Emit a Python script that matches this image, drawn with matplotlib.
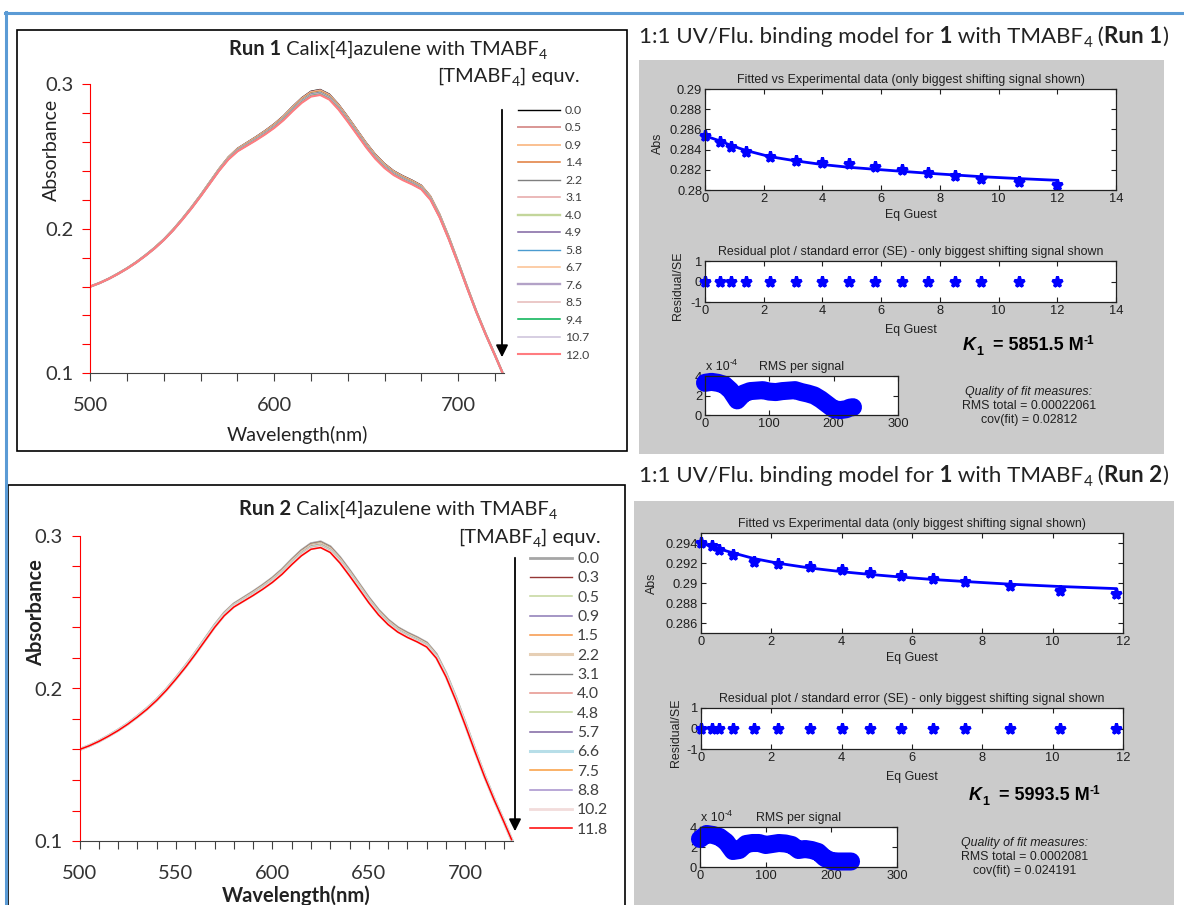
import matplotlib
matplotlib.use("Agg")
import matplotlib.pyplot as plt
from matplotlib.patches import Rectangle, FancyArrowPatch
from matplotlib.lines import Line2D
from matplotlib.ticker import MultipleLocator
import numpy as np

# ---------------- data ----------------
wavelength = [500, 505, 510, 515, 520, 525, 530, 535, 540, 545, 550, 555, 560, 565,
              570, 575, 580, 585, 590, 595, 600, 605, 610, 615, 620, 625, 630, 635,
              640, 645, 650, 655, 660, 665, 670, 675, 680, 685, 690, 695, 700, 705,
              710, 715, 720, 724]
# spectrum at 0 equiv.
abs_start = [0.1600, 0.1625, 0.1655, 0.1690, 0.1728, 0.1770, 0.1818, 0.1870, 0.1928,
             0.1995, 0.2070, 0.2150, 0.2235, 0.2325, 0.2415, 0.2495, 0.2555, 0.2595,
             0.2635, 0.2678, 0.2725, 0.2780, 0.2845, 0.2905, 0.2950, 0.2962, 0.2930,
             0.2860, 0.2775, 0.2685, 0.2595, 0.2515, 0.2450, 0.2400, 0.2365, 0.2335,
             0.2300, 0.2225, 0.2100, 0.1945, 0.1775, 0.1600, 0.1430, 0.1275, 0.1130,
             0.1010]
# gap between first and last spectrum
abs_drop = [0.0000, 0.0001, 0.0002, 0.0003, 0.0004, 0.0004, 0.0005, 0.0006, 0.0006,
            0.0007, 0.0008, 0.0010, 0.0011, 0.0013, 0.0015, 0.0018, 0.0021, 0.0023,
            0.0025, 0.0027, 0.0029, 0.0031, 0.0033, 0.0035, 0.0037, 0.0038, 0.0038,
            0.0037, 0.0036, 0.0034, 0.0033, 0.0032, 0.0031, 0.0030, 0.0030, 0.0029,
            0.0028, 0.0026, 0.0023, 0.0020, 0.0016, 0.0013, 0.0009, 0.0006, 0.0004,
            0.0001]

eq_run1 = [0.0, 0.5, 0.9, 1.4, 2.2, 3.1, 4.0, 4.9, 5.8, 6.7, 7.6, 8.5, 9.4, 10.7, 12.0]
obs_run1 = [0.28536, 0.28480, 0.28421, 0.28381, 0.28331, 0.28288, 0.28272, 0.28258,
            0.28228, 0.28199, 0.28169, 0.28142, 0.28113, 0.28079, 0.28050]
fit_run1 = [0.28536, 0.28487, 0.28440, 0.28391, 0.28331, 0.28288, 0.28252, 0.28225,
            0.28205, 0.28185, 0.28166, 0.28149, 0.28132, 0.28113, 0.28096]
res_run1 = [0, 0, 0, 0, 0, 0, 0, 0, 0, 0, 0, 0, 0, 0, 0]

eq_run2 = [0.0, 0.3, 0.5, 0.9, 1.5, 2.2, 3.1, 4.0, 4.8, 5.7, 6.6, 7.5, 8.8, 10.2, 11.8]
obs_run2 = [0.29400, 0.29370, 0.29333, 0.29275, 0.29214, 0.29190, 0.29157, 0.29130,
            0.29103, 0.29069, 0.29039, 0.29012, 0.28971, 0.28924, 0.28887]
fit_run2 = [0.29400, 0.29366, 0.29343, 0.29302, 0.29245, 0.29197, 0.29150, 0.29113,
            0.29086, 0.29059, 0.29035, 0.29015, 0.28988, 0.28965, 0.28944]
res_run2 = [0, 0, 0, 0, 0, 0, 0, 0, 0, 0, 0, 0, 0, 0, 0]

# RMS per signal (x 1e-4)
rms_sig1 = [0, 10, 20, 30, 40, 45, 50, 60, 70, 80, 90, 100, 110, 120, 130, 140, 150,
            160, 170, 180, 190, 200, 210, 220, 225, 230]
rms_run1 = [3.3, 3.4, 3.3, 3.1, 2.5, 2.0, 1.5, 2.2, 2.45, 2.5, 2.55, 2.4, 2.35, 2.45,
            2.5, 2.55, 2.35, 2.2, 2.0, 1.6, 1.1, 0.6, 0.5, 0.6, 0.75, 0.8]
rms_sig2 = [0, 10, 20, 30, 40, 50, 60, 70, 80, 90, 100, 110, 120, 130, 140, 150, 160,
            170, 180, 190, 200, 210, 220, 230]
rms_run2 = [2.8, 3.3, 3.2, 3.0, 2.5, 1.6, 1.7, 2.3, 2.4, 2.4, 2.2, 2.3, 2.4, 2.35, 2.2,
            1.7, 1.8, 1.7, 1.5, 0.9, 0.6, 0.55, 0.55, 0.55]

colors_run1 = ['#000000', '#d99694', '#fac090', '#e07b39', '#7f7f7f', '#e6a5a5',
               '#c3d69b', '#8064a2', '#4a9bd0', '#fcc08f', '#b3a2c7', '#e6b9b8',
               '#00b050', '#ccc1da', '#ff7c80']
lw_run1 = [1.0, 1.4, 1.4, 1.1, 1.0, 1.1, 1.7, 1.1, 1.0, 1.1, 1.7, 1.1, 1.1, 1.1, 1.5]
colors_run2 = ['#a6a6a6', '#953735', '#c3d69b', '#8c79b5', '#f79646', '#e6cfb5',
               '#808080', '#e6928a', '#c3d69b', '#7f64a2', '#b7dee8', '#f99c3e',
               '#a58fcc', '#f2dcdb', '#ff0000']
lw_run2 = [2.0, 1.0, 1.1, 1.1, 1.1, 2.2, 1.0, 1.1, 1.1, 1.1, 2.2, 1.1, 1.1, 2.0, 1.1]

# ---------------- layout helpers ----------------
W, H = 1184, 905
LATO = ['Lato', 'DejaVu Sans']
MAT = ['Liberation Sans', 'DejaVu Sans']
plt.rcParams['font.family'] = MAT
plt.rcParams['axes.unicode_minus'] = False
BLUE = '#0000ff'

fig = plt.figure(figsize=(W / 100, H / 100), dpi=100)
renderer = fig.canvas.get_renderer()


def px_axes(x0, y0, x1, y1):
    return fig.add_axes([x0 / W, 1 - y1 / H, (x1 - x0) / W, (y1 - y0) / H])


def rich(x, y, pieces, ha='left'):
    # pieces: (text, props, baseline shift in px)
    texts = []
    cur = x
    for s, kw, dy in pieces:
        t = fig.text(cur / W, 1 - (y + dy) / H, s, ha='left', va='baseline', **kw)
        cur = t.get_window_extent(renderer).x1
        texts.append(t)
    if ha == 'right':
        shift = cur - x
        for t in texts:
            px, py = t.get_position()
            t.set_position((px - shift / W, py))


# background frame
fig.add_artist(Line2D([5 / W, 1], [1 - 13 / H, 1 - 13 / H], color='#5b9bd5', lw=2.2))
fig.add_artist(Line2D([6 / W, 6 / W], [1 - 12 / H, 0], color='#5b9bd5', lw=2.2))
fig.add_artist(Rectangle((17 / W, 1 - 451 / H), 610 / W, 421 / H, fill=False,
                         ec='black', lw=1.2, zorder=-2))
fig.add_artist(Rectangle((8 / W, -0.02), 617 / W, 1 - 485 / H + 0.02, fill=False,
                         ec='black', lw=1.2, zorder=-2))
fig.add_artist(Rectangle((639 / W, 1 - 454 / H), 525 / W, 394 / H, fc='#cbcbcb',
                         ec='none', zorder=-5))
fig.add_artist(Rectangle((634 / W, 0), 540 / W, 1 - 501 / H, fc='#cbcbcb',
                         ec='none', zorder=-5))


# ---------------- spectra panels ----------------
def spectra_panel(box, eqs, obs, colors, lws, minor, major, bold, lab_fs, ylab_pos,
                  xlab_pad):
    ax = px_axes(*box)
    base = np.array(abs_start)
    drop = np.array(abs_drop)
    lines = []
    for e, o, c, lw in zip(eqs, obs, colors, lws):
        frac = (obs[0] - o) / (obs[0] - obs[-1])
        ln, = ax.plot(wavelength, base - drop * frac, color=c, lw=lw)
        lines.append(ln)
    ax.set_xlim(500, 725)
    ax.set_ylim(0.1, 0.3)
    ax.spines['top'].set_visible(False)
    ax.spines['right'].set_visible(False)
    ax.spines['left'].set_color('#ff0000')
    ax.spines['bottom'].set_color('#404040')
    ax.xaxis.set_major_locator(MultipleLocator(major))
    ax.xaxis.set_minor_locator(MultipleLocator(minor))
    ax.yaxis.set_major_locator(MultipleLocator(0.1))
    ax.yaxis.set_minor_locator(MultipleLocator(0.02))
    ax.tick_params(axis='y', which='both', colors='#ff0000', length=6, width=0.8,
                   labelcolor='#333333', labelsize=14.5, pad=6)
    ax.tick_params(axis='x', which='both', colors='#404040', length=6, width=0.8,
                   labelcolor='#333333', labelsize=14.5, pad=11)
    ax.set_yticks([0.1, 0.2, 0.3])
    ax.set_yticklabels(['0.1', '0.2', '0.3'])
    for lab in ax.get_xticklabels() + ax.get_yticklabels():
        lab.set_family(LATO)
    w = 'bold' if bold else 'normal'
    ax.set_xlabel('Wavelength(nm)', family=LATO, fontsize=lab_fs, weight=w,
                  color='#222222', labelpad=xlab_pad)
    ax.set_ylabel('Absorbance', family=LATO, fontsize=lab_fs, weight=w,
                  color='#222222')
    ax.yaxis.set_label_coords(*ylab_pos)
    ax.set_facecolor('none')
    return ax, lines


ax1, lines1 = spectra_panel((90.4, 84, 504, 373.3), eq_run1, obs_run1, colors_run1,
                            lw_run1, 20, 100, False, 14, (-0.074, 0.772), 9)
ax1.legend(lines1, [f'{e:.1f}' for e in eq_run1], loc='upper left',
           bbox_to_anchor=(518 / W, 1 - 105 / H), bbox_transform=fig.transFigure,
           frameon=False, prop={'family': LATO, 'size': 8.8}, labelcolor='#404040',
           handlelength=3.4, handletextpad=0.45, labelspacing=0.53, borderpad=0,
           borderaxespad=0)

ax2, lines2 = spectra_panel((79.5, 536, 513.5, 841), eq_run2, obs_run2, colors_run2,
                            lw_run2, 10, 50, True, 14.5, (-0.078, 0.748), 3)
ax2.legend(lines2, [f'{e:.1f}' for e in eq_run2], loc='upper left',
           bbox_to_anchor=(530 / W, 1 - 552 / H), bbox_transform=fig.transFigure,
           frameon=False, prop={'family': LATO, 'size': 11.3}, labelcolor='#404040',
           handlelength=2.7, handletextpad=0.3, labelspacing=0.34, borderpad=0,
           borderaxespad=0)

# arrows beside the legends
for (x, y0, y1) in [(502, 107, 360), (515, 555, 834)]:
    fig.add_artist(FancyArrowPatch((x / W, 1 - y0 / H), (x / W, 1 - y1 / H),
                                   transform=fig.transFigure, arrowstyle='-|>',
                                   mutation_scale=18, color='black', lw=1.3))

# titles of the spectra panels
N = {'family': LATO, 'color': '#222222'}
B = {'family': LATO, 'color': '#222222', 'weight': 'bold'}
rich(229, 55, [('Run 1', dict(B, size=14.5), 0),
               (' Calix[4]azulene with TMABF', dict(N, size=14.5), 0),
               ('4', dict(N, size=10), 4)])
rich(580, 82, [('[TMABF', dict(N, size=14.5), 0), ('4', dict(N, size=10), 4),
               ('] equv.', dict(N, size=14.5), 0)], ha='right')
rich(239, 515, [('Run 2', dict(B, size=14.5), 0),
                (' Calix[4]azulene with TMABF', dict(N, size=14.5), 0),
                ('4', dict(N, size=10), 4)])
rich(601, 543, [('[TMABF', dict(N, size=14.5), 0), ('4', dict(N, size=10), 4),
                ('] equv.', dict(N, size=14.5), 0)], ha='right')

for run, yb in [('1', 43), ('2', 482)]:
    rich(639, yb, [('1:1 UV/Flu. binding model for', dict(N, size=16.1), 0),
                   (' 1', dict(B, size=16.1), 0),
                   (' with TMABF', dict(N, size=16.1), 0),
                   ('4', dict(N, size=11), 4),
                   (' (', dict(N, size=16.1), 0),
                   ('Run ' + run, dict(B, size=16.1), 0),
                   (')', dict(N, size=16.1), 0)])


# ---------------- fit panels (MATLAB style) ----------------
def matlab_style(ax):
    for s in ax.spines.values():
        s.set_color('#202020')
        s.set_linewidth(0.9)
    ax.tick_params(direction='in', top=True, right=True, length=3.5, width=0.8,
                   labelsize=9.3, colors='#202020', pad=2)
    ax.set_facecolor('white')


def fit_panel(fit_box, res_box, rms_box, eqs, obs, fit, res, sig, rms, xmax,
              ylim, yticks, abs_xy, res_xy, k_text, k_xy, q_lines, q_xy):
    ax = px_axes(*fit_box)
    ax.plot(eqs, fit, color=BLUE, lw=2.0)
    ax.plot(eqs, obs, ls='none', marker='*', ms=8, mew=2.2, color=BLUE, clip_on=False)
    ax.set_xlim(0, xmax)
    ax.set_ylim(*ylim)
    ax.set_xticks(range(0, xmax + 1, 2))
    ax.set_yticks(yticks)
    ax.set_yticklabels([f'{v:g}' for v in yticks])
    matlab_style(ax)
    ax.set_title('Fitted vs Experimental data (only biggest shifting signal shown)',
                 fontsize=8.9, color='#202020', pad=4)
    ax.set_xlabel('Eq Guest', fontsize=8.9, color='#202020', labelpad=3)
    fig.text(abs_xy[0] / W, 1 - abs_xy[1] / H, 'Abs', rotation=90, fontsize=8.9,
             ha='center', va='center', color='#202020')

    ax = px_axes(*res_box)
    ax.plot(eqs, res, ls='none', marker='*', ms=8, mew=2.2, color=BLUE, clip_on=False)
    ax.set_xlim(0, xmax)
    ax.set_ylim(-1, 1)
    ax.set_xticks(range(0, xmax + 1, 2))
    ax.set_yticks([-1, 0, 1])
    matlab_style(ax)
    ax.set_title('Residual plot / standard error (SE) - only biggest shifting signal shown',
                 fontsize=8.9, color='#202020', pad=4)
    ax.set_xlabel('Eq Guest', fontsize=8.9, color='#202020', labelpad=5)
    fig.text(res_xy[0] / W, 1 - res_xy[1] / H, 'Residual/SE', rotation=90,
             fontsize=8.9, ha='center', va='center', color='#202020')

    ax = px_axes(*rms_box)
    ax.plot(sig, rms, color=BLUE, lw=13, solid_capstyle='round',
            solid_joinstyle='round', clip_on=False)
    ax.set_xlim(0, 300)
    ax.set_ylim(0, 4)
    ax.set_xticks([0, 100, 200, 300])
    ax.set_yticks([0, 2, 4])
    matlab_style(ax)
    ax.set_title('RMS per signal', fontsize=8.9, color='#202020', pad=4)
    rich(rms_box[0] + 1, rms_box[1] - 6,
         [('x 10', dict(size=8.9, color='#202020'), 0),
          ('-4', dict(size=6.5, color='#202020'), -5)])

    K = {'family': MAT, 'color': 'black', 'weight': 'bold'}
    rich(k_xy[0], k_xy[1], [('K', dict(K, size=13, style='italic'), 0),
                            ('1', dict(K, size=9), 5),
                            ('  = ' + k_text + ' M', dict(K, size=13), 0),
                            ('-1', dict(K, size=8.5), -6)])
    for i, (s, kw) in enumerate(q_lines):
        fig.text(q_xy[0] / W, 1 - (q_xy[1] + 14 * i) / H, s, ha='center',
                 va='baseline', fontsize=8.9, color='#202020', **kw)


fit_panel((705, 89, 1116, 190), (705, 261, 1116, 302), (705, 376, 898, 415),
          eq_run1, obs_run1, fit_run1, res_run1, rms_sig1, rms_run1, 14,
          (0.28, 0.29), [0.28, 0.282, 0.284, 0.286, 0.288, 0.29], (658, 143),
          (678, 286), '5851.5', (963, 350),
          [('Quality of fit measures:', {'style': 'italic'}),
           ('RMS total = 0.00022061', {}), ('cov(fit) = 0.02812', {})], (1029, 395))

fit_panel((701, 533, 1123, 633), (701, 708, 1123, 749), (700, 827, 897, 867),
          eq_run2, obs_run2, fit_run2, res_run2, rms_sig2, rms_run2, 12,
          (0.285, 0.295), [0.286, 0.288, 0.29, 0.292, 0.294], (652, 583),
          (676, 733), '5993.5', (969, 800),
          [('Quality of fit measures:', {'style': 'italic'}),
           ('RMS total = 0.0002081', {}), ('cov(fit) = 0.024191', {})], (1025, 846))

fig.savefig('out.png', dpi=100, facecolor='white')
